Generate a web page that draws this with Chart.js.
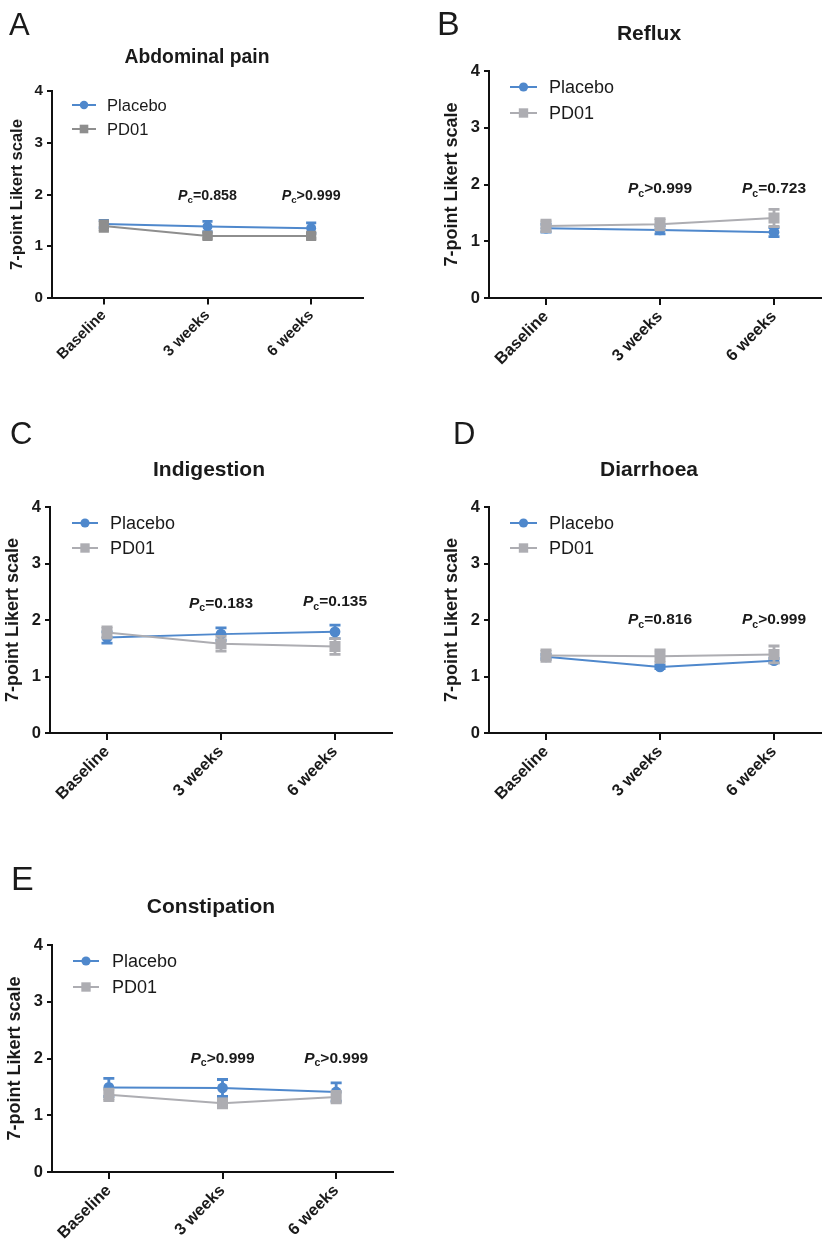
<!DOCTYPE html>
<html>
<head>
<meta charset="utf-8">
<script src="https://cdn.jsdelivr.net/npm/chart.js@4.4.0/dist/chart.umd.min.js"></script>
<style>
  html, body { margin: 0; padding: 0; background: #fff; overflow: hidden; }
  #page { position: relative; width: 822px; height: 1242px; overflow: hidden; }
  #page canvas { position: absolute; }
</style>
</head>
<body>
<div id="page"></div>
<script>
// Data (mean and SEM per time point)
const timepoints = ['Baseline', '3 weeks', '6 weeks'];
const yTickValues = [0, 1, 2, 3, 4];

const abdominalPlacebo = [1.43, 1.38, 1.35];
const abdominalPlaceboErr = [0.07, 0.10, 0.10];
const abdominalPD01 = [1.39, 1.20, 1.20];
const abdominalPD01Err = [0.10, 0.05, 0.05];
const abdominalP = ['=0.858', '>0.999'];

const refluxPlacebo = [1.23, 1.20, 1.16];
const refluxPlaceboErr = [0.07, 0.07, 0.08];
const refluxPD01 = [1.27, 1.30, 1.41];
const refluxPD01Err = [0.10, 0.10, 0.15];
const refluxP = ['>0.999', '=0.723'];

const indigestionPlacebo = [1.69, 1.75, 1.79];
const indigestionPlaceboErr = [0.10, 0.11, 0.12];
const indigestionPD01 = [1.78, 1.58, 1.53];
const indigestionPD01Err = [0.10, 0.13, 0.14];
const indigestionP = ['=0.183', '=0.135'];

const diarrhoeaPlacebo = [1.35, 1.17, 1.28];
const diarrhoeaPlaceboErr = [0.04, 0.03, 0.04];
const diarrhoeaPD01 = [1.37, 1.36, 1.39];
const diarrhoeaPD01Err = [0.10, 0.11, 0.15];
const diarrhoeaP = ['=0.816', '>0.999'];

const constipationPlacebo = [1.49, 1.48, 1.41];
const constipationPlaceboErr = [0.16, 0.15, 0.16];
const constipationPD01 = [1.36, 1.21, 1.32];
const constipationPD01Err = [0.10, 0.08, 0.10];
const constipationP = ['>0.999', '>0.999'];

const FONT = "'Liberation Sans', Arial, Helvetica, sans-serif";
const INK = '#1a1a1a';
const BLUE = '#4f88cc';
const AXW = 48;   // y axis box width
const XAH = 70;   // x axis box height

Chart.defaults.font.family = FONT;
Chart.defaults.color = INK;

// Panel layout (page pixels)
const panels = [
  {
    letter: 'A', title: 'Abdominal pain', s: 0.92, gray: '#8e8e8e',
    placebo: abdominalPlacebo, placeboErr: abdominalPlaceboErr,
    pd01: abdominalPD01, pd01Err: abdominalPD01Err,
    pText: abdominalP, pY: [1.99, 1.99],
    box: { x: 0, y: 0, w: 411, h: 395 }, plot: { L: 52, R: 363, T: 91, B: 298 },
    letterPos: { x: 9, y: 35, size: 31 }, titlePos: { x: 197, y: 63 },
    legendPos: { x: 72, len: 24, tx: 107, y1: 105, y2: 129 }, yTitlePad: 4
  },
  {
    letter: 'B', title: 'Reflux', s: 1, gray: '#adadb2',
    placebo: refluxPlacebo, placeboErr: refluxPlaceboErr,
    pd01: refluxPD01, pd01Err: refluxPD01Err,
    pText: refluxP, pY: [1.94, 1.94],
    box: { x: 411, y: 0, w: 430, h: 395 }, plot: { L: 489, R: 831, T: 71, B: 298 },
    letterPos: { x: 437, y: 35, size: 34 }, titlePos: { x: 649, y: 40 },
    legendPos: { x: 510, len: 27, tx: 549, y1: 87, y2: 113 }, yTitlePad: 0
  },
  {
    letter: 'C', title: 'Indigestion', s: 1, gray: '#adadb2',
    placebo: indigestionPlacebo, placeboErr: indigestionPlaceboErr,
    pd01: indigestionPD01, pd01Err: indigestionPD01Err,
    pText: indigestionP, pY: [2.31, 2.34],
    box: { x: 0, y: 400, w: 411, h: 420 }, plot: { L: 50, R: 392, T: 507, B: 733 },
    letterPos: { x: 10, y: 444, size: 31 }, titlePos: { x: 209, y: 476 },
    legendPos: { x: 72, len: 26, tx: 110, y1: 523, y2: 548 }, yTitlePad: 0
  },
  {
    letter: 'D', title: 'Diarrhoea', s: 1, gray: '#adadb2',
    placebo: diarrhoeaPlacebo, placeboErr: diarrhoeaPlaceboErr,
    pd01: diarrhoeaPD01, pd01Err: diarrhoeaPD01Err,
    pText: diarrhoeaP, pY: [2.02, 2.02],
    box: { x: 411, y: 400, w: 430, h: 420 }, plot: { L: 489, R: 831, T: 507, B: 733 },
    letterPos: { x: 453, y: 444, size: 31 }, titlePos: { x: 649, y: 476 },
    legendPos: { x: 510, len: 27, tx: 549, y1: 523, y2: 548 }, yTitlePad: 0
  },
  {
    letter: 'E', title: 'Constipation', s: 1, gray: '#adadb2',
    placebo: constipationPlacebo, placeboErr: constipationPlaceboErr,
    pd01: constipationPD01, pd01Err: constipationPD01Err,
    pText: constipationP, pY: [2.02, 2.02],
    box: { x: 0, y: 840, w: 411, h: 402 }, plot: { L: 52, R: 393, T: 945, B: 1172 },
    letterPos: { x: 11, y: 890, size: 34 }, titlePos: { x: 211, y: 913 },
    legendPos: { x: 73, len: 26, tx: 112, y1: 961, y2: 987 }, yTitlePad: 0
  }
];

// Vertical SEM bars with caps, drawn right after each dataset
const errorBars = {
  id: 'errorBars',
  afterDatasetDraw(chart, args) {
    const ds = chart.data.datasets[args.index];
    if (!ds.err) return;
    const y = chart.scales.y;
    const ctx = chart.ctx;
    const hw = ds.capHalf;
    ctx.save();
    ctx.strokeStyle = ds.borderColor;
    ctx.lineWidth = 2.8;
    args.meta.data.forEach((pt, i) => {
      const top = y.getPixelForValue(ds.data[i] + ds.err[i]);
      const bot = y.getPixelForValue(ds.data[i] - ds.err[i]);
      ctx.beginPath();
      ctx.moveTo(pt.x, top); ctx.lineTo(pt.x, bot);
      ctx.moveTo(pt.x - hw, top); ctx.lineTo(pt.x + hw, top);
      ctx.moveTo(pt.x - hw, bot); ctx.lineTo(pt.x + hw, bot);
      ctx.stroke();
    });
    ctx.restore();
  }
};

function drawMarker(ctx, style, x, y, r, color) {
  ctx.fillStyle = color;
  ctx.beginPath();
  if (style === 'circle') {
    ctx.arc(x, y, r, 0, Math.PI * 2);
  } else {
    const h = r * Math.SQRT1_2;
    ctx.rect(x - h, y - h, 2 * h, 2 * h);
  }
  ctx.fill();
}

function drawP(ctx, cx, cy, rest, size) {
  ctx.font = `italic bold ${size}px ${FONT}`;
  const wP = ctx.measureText('P').width;
  ctx.font = `bold ${size * 0.68}px ${FONT}`;
  const wc = ctx.measureText('c').width;
  ctx.font = `bold ${size}px ${FONT}`;
  const wr = ctx.measureText(rest).width;
  let x = cx - (wP + wc + wr) / 2;
  const base = cy + size * 0.36;
  ctx.textBaseline = 'alphabetic';
  ctx.textAlign = 'left';
  ctx.font = `italic bold ${size}px ${FONT}`;
  ctx.fillText('P', x, base);
  ctx.font = `bold ${size * 0.68}px ${FONT}`;
  ctx.fillText('c', x + wP, base + size * 0.22);
  ctx.font = `bold ${size}px ${FONT}`;
  ctx.fillText(rest, x + wP + wc, base);
}

// Panel letter, title, inset legend and P values
const panelText = {
  id: 'panelText',
  afterDraw(chart, args, p) {
    const ctx = chart.ctx;
    const ox = p.box.x, oy = p.box.y, s = p.s;
    ctx.save();
    ctx.fillStyle = INK;
    ctx.textBaseline = 'alphabetic';
    ctx.textAlign = 'left';
    ctx.font = `${p.letterPos.size}px ${FONT}`;
    ctx.fillText(p.letter, p.letterPos.x - ox, p.letterPos.y - oy);

    ctx.textAlign = 'center';
    ctx.font = `bold ${21 * s}px ${FONT}`;
    ctx.fillText(p.title, p.titlePos.x - ox, p.titlePos.y - oy);

    const lg = p.legendPos;
    chart.data.datasets.forEach((ds, i) => {
      const yy = (i === 0 ? lg.y1 : lg.y2) - oy;
      const x0 = lg.x - ox;
      ctx.strokeStyle = ds.borderColor;
      ctx.lineWidth = 2;
      ctx.beginPath();
      ctx.moveTo(x0, yy); ctx.lineTo(x0 + lg.len, yy);
      ctx.stroke();
      drawMarker(ctx, ds.pointStyle, x0 + lg.len / 2, yy, ds.pointRadius * 0.85, ds.borderColor);
      ctx.fillStyle = INK;
      ctx.textAlign = 'left';
      ctx.textBaseline = 'middle';
      ctx.font = `${18 * s}px ${FONT}`;
      ctx.fillText(ds.label, lg.tx - ox, yy + 1);
    });

    ctx.fillStyle = INK;
    const xs = chart.scales.x, ys = chart.scales.y;
    p.pText.forEach((t, i) => {
      drawP(ctx, xs.getPixelForValue(i + 1), ys.getPixelForValue(p.pY[i]), t, 15.5 * s);
    });
    ctx.restore();
  }
};

const page = document.getElementById('page');

function makePanel(p) {
  const canvas = document.createElement('canvas');
  canvas.width = p.box.w;
  canvas.height = p.box.h;
  canvas.style.left = p.box.x + 'px';
  canvas.style.top = p.box.y + 'px';
  canvas.style.width = p.box.w + 'px';
  canvas.style.height = p.box.h + 'px';
  page.appendChild(canvas);
  const s = p.s;

  return new Chart(canvas.getContext('2d'), {
    type: 'line',
    data: {
      labels: timepoints,
      datasets: [
        {
          label: 'Placebo', data: p.placebo, err: p.placeboErr, capHalf: 5.5 * s,
          borderColor: BLUE, backgroundColor: BLUE, borderWidth: 2,
          pointStyle: 'circle', pointRadius: 5.4 * s, pointBorderWidth: 0,
          pointBackgroundColor: BLUE, tension: 0, order: 1
        },
        {
          label: 'PD01', data: p.pd01, err: p.pd01Err, capHalf: 5.5 * s,
          borderColor: p.gray, backgroundColor: p.gray, borderWidth: 2,
          pointStyle: 'rect', pointRadius: 7.8 * s, pointBorderWidth: 0,
          pointBackgroundColor: p.gray, tension: 0, order: 0
        }
      ]
    },
    options: {
      responsive: false,
      animation: false,
      layout: {
        padding: {
          left: p.plot.L - AXW - p.box.x,
          top: p.plot.T - p.box.y,
          right: p.box.x + p.box.w - p.plot.R,
          bottom: p.box.y + p.box.h - p.plot.B - XAH
        }
      },
      plugins: {
        legend: { display: false },
        tooltip: { enabled: false },
        panelText: p
      },
      scales: {
        x: {
          type: 'category',
          offset: true,
          grid: { drawOnChartArea: false, drawTicks: true, tickLength: 7 * s, color: '#111', lineWidth: 2 },
          border: { color: '#111', width: 2 },
          ticks: {
            color: INK, autoSkip: false, minRotation: 45, maxRotation: 45, padding: 2,
            font: { size: 16.5 * s, weight: 'bold' }
          },
          afterFit(scale) { scale.height = XAH; }
        },
        y: {
          min: 0,
          max: 4,
          afterBuildTicks(scale) { scale.ticks = yTickValues.map(v => ({ value: v })); },
          grid: { drawOnChartArea: false, drawTicks: true, tickLength: 5, color: '#111', lineWidth: 2 },
          border: { color: '#111', width: 2 },
          ticks: { color: INK, padding: 4, font: { size: 16.5 * s, weight: 'bold' } },
          title: {
            display: true, text: '7-point Likert scale', color: INK,
            font: { size: 18 * s, weight: 'bold' },
            padding: { top: p.yTitlePad, bottom: 0 }
          },
          afterFit(scale) { scale.width = AXW; }
        }
      }
    },
    plugins: [errorBars, panelText]
  });
}

panels.forEach(makePanel);
</script>
</body>
</html>
